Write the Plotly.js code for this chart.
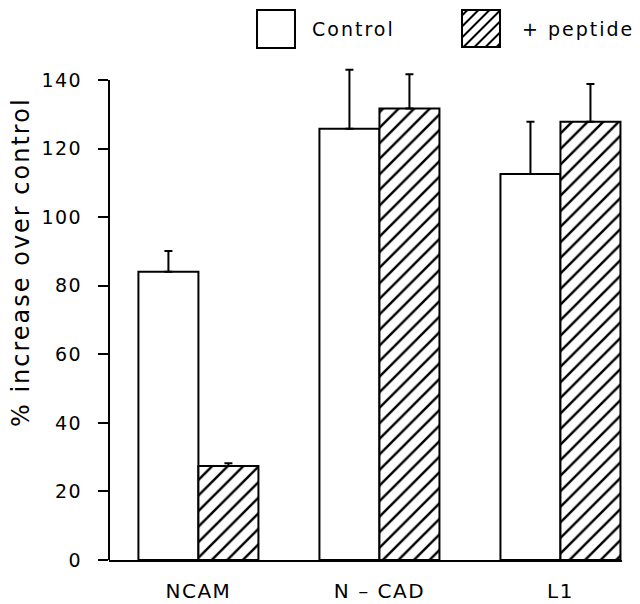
<!DOCTYPE html>
<html>
<head>
<meta charset="utf-8">
<script src="https://cdn.plot.ly/plotly-3.0.1.min.js"></script>
<style>
  html, body { margin: 0; padding: 0; background: #fff; }
  #chart { width: 640px; height: 604px; }
  .ytick text { letter-spacing: 1.5px; }
  .xtick text { letter-spacing: 1.5px; }
  .annotation-text { letter-spacing: 2px; }
</style>
</head>
<body>
<div id="chart"></div>
<script>
// ---- data ----
var categories = ["NCAM", "N \u2013 CAD", "L1"];
var controlValues = [84.1, 125.8, 112.6];
var controlErrors = [6.0, 17.2, 15.2];
var peptideValues = [27.4, 131.7, 127.8];
var peptideErrors = [0.8, 10.0, 11.0];
var seriesNames = ["Control", "+ peptide"];
var yTickValues = [0, 20, 40, 60, 80, 100, 120, 140];
var yAxisTop = 140;

// ---- layout helpers (pixel -> paper coordinates) ----
var W = 640, H = 604;
var L = 109, R = 18, B = 44;
var PXPERUNIT = 480 / 140;
var YMAX = 147;                        // room above 140 so error bars are not clipped
var T = Math.round(H - B - YMAX * PXPERUNIT);
var PW = W - L - R, PH = H - T - B;
function px(x) { return (x - L) / PW; }
function py(y) { return (H - B - y) / PH; }

var FONT = "DejaVu Sans, sans-serif";

var traceControl = {
  type: "bar",
  name: seriesNames[0],
  x: categories,
  y: controlValues,
  marker: { color: "#ffffff", line: { color: "#000000", width: 2 } },
  error_y: { type: "data", symmetric: false, array: controlErrors, arrayminus: controlValues.map(function(){return 0;}), color: "#000000", thickness: 2, width: 4 },
  hoverinfo: "none"
};
var tracePeptide = {
  type: "bar",
  name: seriesNames[1],
  x: categories,
  y: peptideValues,
  marker: {
    color: "#ffffff",
    line: { color: "#000000", width: 2 },
    pattern: { shape: "/", fgcolor: "#000000", bgcolor: "#ffffff", fgopacity: 1, size: 11, solidity: 0.22, fillmode: "replace" }
  },
  error_y: { type: "data", symmetric: false, array: peptideErrors, arrayminus: peptideValues.map(function(){return 0;}), color: "#000000", thickness: 2, width: 4 },
  hoverinfo: "none"
};

var shapes = [];
// y axis line only up to the top tick
shapes.push({ type: "line", xref: "paper", yref: "y", x0: 0, x1: 0, y0: 0, y1: yAxisTop,
              line: { color: "#000", width: 2 }, layer: "above" });
// legend swatches drawn as shapes
function rectShape(x0, y0, x1, y1) {
  return { type: "rect", xref: "paper", yref: "paper", x0: px(x0), x1: px(x1), y0: py(y1), y1: py(y0),
           line: { color: "#000", width: 2 }, fillcolor: "#fff", layer: "above" };
}
shapes.push(rectShape(257, 10, 295, 48));
shapes.push(rectShape(462, 10, 500, 47));
(function () {
  var x0 = 462, y0 = 10, x1 = 500, y1 = 47, step = 11;
  var d = "";
  for (var c = x0 + y0 + step / 2; c < x1 + y1; c += step) {
    var ax = Math.max(x0, c - y1), ay = c - ax;
    var bx = Math.min(x1, c - y0), by = c - bx;
    if (bx <= ax) continue;
    d += "M" + px(ax) + "," + py(ay) + "L" + px(bx) + "," + py(by);
  }
  shapes.push({ type: "path", xref: "paper", yref: "paper", path: d, line: { color: "#000", width: 2 }, layer: "above" });
})();

var annotations = [
  { text: seriesNames[0], xref: "paper", yref: "paper", x: px(310), y: py(29), xanchor: "left", yanchor: "middle",
    showarrow: false, font: { family: FONT, size: 19, color: "#000" } },
  { text: seriesNames[1], xref: "paper", yref: "paper", x: px(520), y: py(29), xanchor: "left", yanchor: "middle",
    showarrow: false, font: { family: FONT, size: 19, color: "#000" } },
  { text: "% increase over control", xref: "paper", yref: "paper", x: px(21), y: py(262), xanchor: "center", yanchor: "middle",
    textangle: -90, showarrow: false, font: { family: FONT, size: 24, color: "#000" } }
];

var layout = {
  width: W, height: H,
  margin: { l: L, r: R, t: T, b: B, pad: 0 },
  paper_bgcolor: "#fff", plot_bgcolor: "#fff",
  showlegend: false,
  barmode: "group",
  bargap: 0.337,
  bargroupgap: 0,
  font: { family: FONT, color: "#000" },
  xaxis: {
    type: "category",
    range: [-0.494, 2.34],
    showline: true, linecolor: "#000", linewidth: 2,
    ticks: "", showgrid: false, zeroline: false,
    tickfont: { family: FONT, size: 20, color: "#000" },
    ticklabelstandoff: 12,
    fixedrange: true
  },
  yaxis: {
    range: [0, YMAX],
    tickvals: yTickValues,
    showline: false,
    ticks: "outside", ticklen: 10, tickwidth: 2, tickcolor: "#000",
    showgrid: false, zeroline: false,
    tickfont: { family: FONT, size: 19, color: "#000" },
    ticklabelstandoff: 12,
    fixedrange: true
  },
  shapes: shapes,
  annotations: annotations
};

Plotly.newPlot("chart", [traceControl, tracePeptide], layout, { staticPlot: true, displayModeBar: false });
</script>
</body>
</html>
